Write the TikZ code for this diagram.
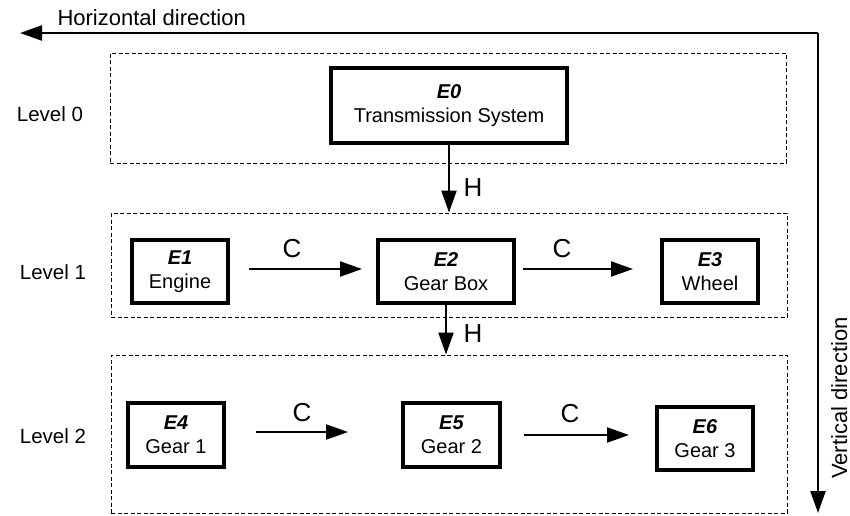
\documentclass[tikz,border=0pt]{standalone}
\usepackage{fontspec}
\setmainfont{Liberation Sans}
\usetikzlibrary{arrows.meta}
\begin{document}
\begin{tikzpicture}[x=1pt,y=-1pt,
  levelbox/.style={draw, dashed, dash pattern=on 4pt off 2.5pt, line width=0.9pt, inner sep=0pt},
  elem/.style={draw, line width=3.2pt, inner sep=0pt, align=center, font=\fontsize{20}{24}\selectfont},
  lvl/.style={font=\fontsize{20.5}{24}\selectfont},
  conn/.style={line width=2.1pt, -{Triangle[length=22pt,width=15pt]}},
  dirarrow/.style={line width=2.3pt, -{Triangle[length=22pt,width=15pt]}},
  rel/.style={font=\fontsize{26}{30}\selectfont},
  dirlabel/.style={font=\fontsize{22}{26}\selectfont}]
\useasboundingbox (0,0) rectangle (850,515);

% level boxes
\node[levelbox, minimum width=676pt, minimum height=110pt] (L0) at (448,108) {};
\node[levelbox, minimum width=676pt, minimum height=104pt] (L1) at (449,265) {};
\node[levelbox, minimum width=676pt, minimum height=158pt] (L2) at (449,434) {};

% level labels
\node[lvl] (l0) at (50,114) {Level 0};
\node[lvl] (l1) at (53,272) {Level 1};
\node[lvl] (l2) at (53,436) {Level 2};

% elements
\node[elem, minimum width=236pt, minimum height=75pt] (E0) at (449,105.5) {\textbf{\textit{E0}}\\Transmission System};
\node[elem, minimum width=96pt, minimum height=63pt] (E1) at (180,271.5) {\textbf{\textit{E1}}\\Engine};
\node[elem, minimum width=136pt, minimum height=63pt] (E2) at (446,271.5) {\textbf{\textit{E2}}\\Gear Box};
\node[elem, minimum width=96pt, minimum height=63pt] (E3) at (710,271.5) {\textbf{\textit{E3}}\\Wheel};
\node[elem, minimum width=96pt, minimum height=64pt] (E4) at (176,435) {\textbf{\textit{E4}}\\Gear 1};
\node[elem, minimum width=97pt, minimum height=64pt] (E5) at (451.5,435) {\textbf{\textit{E5}}\\Gear 2};
\node[elem, minimum width=96pt, minimum height=63pt] (E6) at (705,438.5) {\textbf{\textit{E6}}\\Gear 3};

% hierarchy arrows
\draw[conn] (E0.south) -- (E0.south |- L1.north);
\node[rel] (h1) at (473,188) {H};
\draw[conn] (E2.south) -- (E2.south |- L2.north);
\node[rel] (h2) at (473,334) {H};

% composition arrows
\coordinate (a1s) at (249,269);
\coordinate (a1e) at (362,269);
\draw[conn] (a1s) -- (a1e);
\node[rel] (c1) at (292,249) {C};
\coordinate (a2s) at (523,269);
\coordinate (a2e) at (633,269);
\draw[conn] (a2s) -- (a2e);
\node[rel] (c2) at (562,249) {C};
\coordinate (a3s) at (256,432);
\coordinate (a3e) at (348,432);
\draw[conn] (a3s) -- (a3e);
\node[rel] (c3) at (302,413) {C};
\coordinate (a4s) at (524,435);
\coordinate (a4e) at (629,435);
\draw[conn] (a4s) -- (a4e);
\node[rel] (c4) at (570,414) {C};

% direction arrows
\coordinate (corner) at (818,33);
\coordinate (hend) at (20,33);
\coordinate (vend) at (818,513);
\draw[dirarrow] (corner) -- (hend);
\draw[dirarrow] (corner) -- (vend);
\node[dirlabel, anchor=base west] (hl) at (54,25) {Horizontal direction};
\node[dirlabel, rotate=90, anchor=base] (vl) at (847,398) {Vertical direction};
\end{tikzpicture}
\end{document}
